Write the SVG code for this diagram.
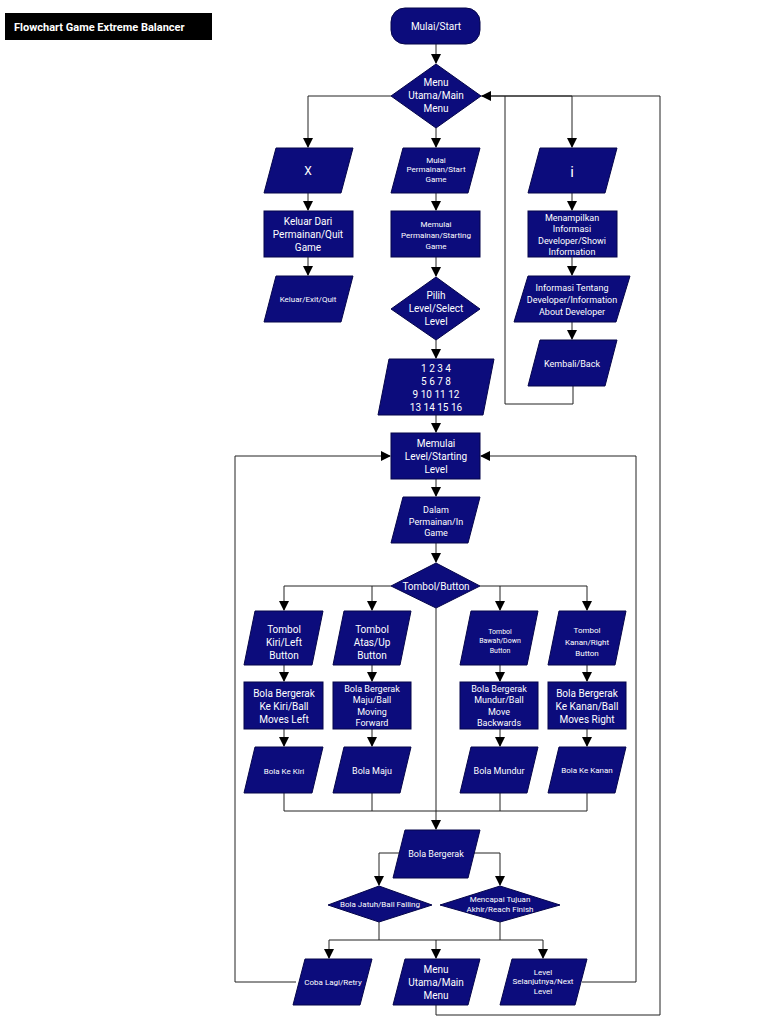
<svg xmlns="http://www.w3.org/2000/svg" width="768" height="1024" viewBox="0 0 768 1024">
<style>
.n{fill:#0c0c7c;stroke:#05054a;stroke-width:1}
.t{fill:#fff;font-family:Roboto,"Liberation Sans",sans-serif;font-size:10px;text-anchor:middle}
.s{font-size:8px}
.m{font-size:9px}
.c{fill:none;stroke:#222;stroke-width:1}
</style>
<defs><marker id="a" markerWidth="10" markerHeight="10" refX="9" refY="5" orient="auto" markerUnits="userSpaceOnUse"><path d="M0,0 L10,5 L0,10 z" fill="#000"/></marker></defs>
<rect width="768" height="1024" fill="#fff"/>
<g id="title"><rect x="5" y="13" width="207" height="27" fill="#000"/><text x="14" y="31" fill="#fff" font-family="Roboto,'Liberation Sans',sans-serif" font-size="11" font-weight="bold">Flowchart Game Extreme Balancer</text></g>
<g id="connectors">
<path class="c" marker-end="url(#a)" d="M436,44V63"/>
<path class="c" marker-end="url(#a)" d="M391,96H308V147"/>
<path class="c" marker-end="url(#a)" d="M436,128V147"/>
<path class="c" marker-end="url(#a)" d="M481,96H572V147"/>
<path class="c" marker-end="url(#a)" d="M308,193V210"/>
<path class="c" marker-end="url(#a)" d="M436,193V210"/>
<path class="c" marker-end="url(#a)" d="M572,193V210"/>
<path class="c" marker-end="url(#a)" d="M308,257V275"/>
<path class="c" marker-end="url(#a)" d="M436,257V276"/>
<path class="c" marker-end="url(#a)" d="M572,257V275"/>
<path class="c" marker-end="url(#a)" d="M572,322V339"/>
<path class="c" d="M573,386V404H505V96"/>
<path class="c" marker-end="url(#a)" d="M436,340V358"/>
<path class="c" marker-end="url(#a)" d="M436,415V432"/>
<path class="c" marker-end="url(#a)" d="M436,479V496"/>
<path class="c" marker-end="url(#a)" d="M436,543V562"/>
<path class="c" marker-end="url(#a)" d="M391,586H284V610"/>
<path class="c" marker-end="url(#a)" d="M372,586V610"/>
<path class="c" marker-end="url(#a)" d="M480,586H500V610"/>
<path class="c" marker-end="url(#a)" d="M500,586H587V610"/>
<path class="c" marker-end="url(#a)" d="M284,665V681"/>
<path class="c" marker-end="url(#a)" d="M372,665V681"/>
<path class="c" marker-end="url(#a)" d="M500,665V681"/>
<path class="c" marker-end="url(#a)" d="M587,665V681"/>
<path class="c" marker-end="url(#a)" d="M284,729V746"/>
<path class="c" marker-end="url(#a)" d="M372,729V746"/>
<path class="c" marker-end="url(#a)" d="M500,729V746"/>
<path class="c" marker-end="url(#a)" d="M587,729V746"/>
<path class="c" d="M284,793V811H587V793M372,793V811M500,793V811"/>
<path class="c" marker-end="url(#a)" d="M436,608V829"/>
<path class="c" marker-end="url(#a)" d="M400,853H379V885"/>
<path class="c" marker-end="url(#a)" d="M472,853H500V885"/>
<path class="c" d="M379,922V940M500,922V940M329,940H543"/>
<path class="c" marker-end="url(#a)" d="M329,940V958"/>
<path class="c" marker-end="url(#a)" d="M436,940V958"/>
<path class="c" marker-end="url(#a)" d="M543,940V958"/>
<path class="c" marker-end="url(#a)" d="M296,982H235V456H390"/>
<path class="c" marker-end="url(#a)" d="M582,982H636V456H481"/>
<path class="c" marker-end="url(#a)" d="M436,1005V1015H660V96H482"/>
</g>
<g id="start"><rect class="n" x="391" y="8" width="89" height="36" rx="14"/><text class="t" x="436" y="30">Mulai/Start</text></g>
<g id="menu"><path class="n" d="M436,64L481,96L436,128L391,96z"/><text class="t" x="436" y="86">Menu</text><text class="t" x="436" y="99">Utama/Main</text><text class="t" x="436" y="112">Menu</text></g>
<g id="x"><path class="n" d="M276,148H353L341,193H264z"/><text class="t" x="308" y="175" style="font-size:12px">X</text></g>
<g id="mulaiperm"><path class="n" d="M403,148H480L468,193H391z" stroke="#a07030"/><text class="t s" x="436" y="163">Mulai</text><text class="t s" x="436" y="172">Permainan/Start</text><text class="t s" x="436" y="182">Game</text></g>
<g id="info"><path class="n" d="M540,148H617L605,193H528z"/><text class="t" x="572" y="177" style="font-size:15px">i</text></g>
<g id="keluar"><rect class="n" x="264" y="211" width="89" height="46"/><text class="t" x="308" y="225">Keluar Dari</text><text class="t" x="308" y="238">Permainan/Quit</text><text class="t" x="308" y="251">Game</text></g>
<g id="memulaiperm"><rect class="n" x="391" y="211" width="89" height="46"/><text class="t s" x="436" y="227">Memulai</text><text class="t s" x="436" y="238">Permainan/Starting</text><text class="t s" x="436" y="249">Game</text></g>
<g id="menampilkan"><rect class="n" x="528" y="211" width="89" height="46"/><text class="t m" x="572" y="221">Menampilkan</text><text class="t m" x="572" y="232">Informasi</text><text class="t m" x="572" y="244">Developer/Showi</text><text class="t m" x="572" y="255">Information</text></g>
<g id="exit"><path class="n" d="M276,276H353L341,322H264z"/><text class="t s" x="308" y="302">Keluar/Exit/Quit</text></g>
<g id="pilih"><path class="n" d="M436,277L480,309L436,340L391,309z"/><text class="t" x="436" y="299">Pilih</text><text class="t" x="436" y="312">Level/Select</text><text class="t" x="436" y="325">Level</text></g>
<g id="infotentang"><path class="n" d="M528,276H630L616,322H514z"/><text class="t m" x="572" y="291">Informasi Tentang</text><text class="t m" x="572" y="303">Developer/Information</text><text class="t m" x="572" y="315">About Developer</text></g>
<g id="kembali"><path class="n" d="M540,340H617L605,386H528z"/><text class="t m" x="572" y="367">Kembali/Back</text></g>
<g id="levels"><path class="n" d="M389,359H494L483,415H378z"/><text class="t" x="436" y="372">1 2 3 4</text><text class="t" x="436" y="385">5 6 7 8</text><text class="t" x="436" y="398">9 10 11 12</text><text class="t" x="436" y="411">13 14 15 16</text></g>
<g id="memulailevel"><rect class="n" x="391" y="433" width="89" height="46"/><text class="t" x="436" y="447">Memulai</text><text class="t" x="436" y="460">Level/Starting</text><text class="t" x="436" y="473">Level</text></g>
<g id="dalam"><path class="n" d="M403,497H480L468,543H391z"/><text class="t m" x="436" y="513">Dalam</text><text class="t m" x="436" y="525">Permainan/In</text><text class="t m" x="436" y="536">Game</text></g>
<g id="tombol"><path class="n" d="M436,563L480,586L436,608L391,586z"/><text class="t" x="436" y="590">Tombol/Button</text></g>
<g id="tkiri"><path class="n" d="M255,611H323L312,665H244z"/><text class="t" x="284" y="633">Tombol</text><text class="t" x="284" y="646">Kiri/Left</text><text class="t" x="284" y="659">Button</text></g>
<g id="tatas"><path class="n" d="M344,611H411L400,665H333z"/><text class="t" x="372" y="633">Tombol</text><text class="t" x="372" y="646">Atas/Up</text><text class="t" x="372" y="659">Button</text></g>
<g id="tbawah"><path class="n" d="M471,611H538L527,665H460z"/><text class="t" x="500" y="634" style="font-size:7px">Tombol</text><text class="t" x="500" y="643" style="font-size:7px">Bawah/Down</text><text class="t" x="500" y="653" style="font-size:7px">Button</text></g>
<g id="tkanan"><path class="n" d="M559,611H626L615,665H548z"/><text class="t s" x="587" y="633">Tombol</text><text class="t s" x="587" y="645">Kanan/Right</text><text class="t s" x="587" y="656">Button</text></g>
<g id="bkiri"><rect class="n" x="244" y="682" width="79" height="47"/><text class="t" x="284" y="697">Bola Bergerak</text><text class="t" x="284" y="710">Ke Kiri/Ball</text><text class="t" x="284" y="723">Moves Left</text></g>
<g id="bmaju"><rect class="n" x="333" y="682" width="78" height="47"/><text class="t m" x="372" y="692">Bola Bergerak</text><text class="t m" x="372" y="703">Maju/Ball</text><text class="t m" x="372" y="715">Moving</text><text class="t m" x="372" y="726">Forward</text></g>
<g id="bmundur"><rect class="n" x="460" y="682" width="78" height="47"/><text class="t m" x="499" y="692">Bola Bergerak</text><text class="t m" x="499" y="703">Mundur/Ball</text><text class="t m" x="499" y="715">Move</text><text class="t m" x="499" y="726">Backwards</text></g>
<g id="bkanan"><rect class="n" x="548" y="682" width="78" height="47"/><text class="t" x="587" y="697">Bola Bergerak</text><text class="t" x="587" y="710">Ke Kanan/Ball</text><text class="t" x="587" y="723">Moves Right</text></g>
<g id="kekiri"><path class="n" d="M255,747H323L312,793H244z"/><text class="t s" x="284" y="774">Bola Ke Kiri</text></g>
<g id="maju"><path class="n" d="M344,747H411L400,793H333z"/><text class="t m" x="372" y="774">Bola Maju</text></g>
<g id="mundur"><path class="n" d="M471,747H538L527,793H460z"/><text class="t m" x="499" y="774">Bola Mundur</text></g>
<g id="kekanan"><path class="n" d="M559,747H626L615,793H548z"/><text class="t s" x="587" y="773">Bola Ke Kanan</text></g>
<g id="bergerak"><path class="n" d="M405,830H480L468,878H393z"/><text class="t m" x="436" y="857">Bola Bergerak</text></g>
<g id="jatuh"><path class="n" d="M379,886L432,905L379,922L328,905z"/><text class="t s" x="380" y="907">Bola Jatuh/Ball Falling</text></g>
<g id="mencapai"><path class="n" d="M500,886L560,905L500,922L440,905z"/><text class="t s" x="500" y="902">Mencapai Tujuan</text><text class="t s" x="500" y="912">Akhir/Reach Finish</text></g>
<g id="coba"><path class="n" d="M305,959H372L360,1005H293z"/><text class="t s" x="333" y="985">Coba Lagi/Retry</text></g>
<g id="menu2"><path class="n" d="M405,959H480L468,1005H393z"/><text class="t" x="436" y="973">Menu</text><text class="t" x="436" y="986">Utama/Main</text><text class="t" x="436" y="999">Menu</text></g>
<g id="next"><path class="n" d="M512,959H587L575,1005H500z"/><text class="t s" x="543" y="975">Level</text><text class="t s" x="543" y="984">Selanjutnya/Next</text><text class="t s" x="543" y="994">Level</text></g>
</svg>
